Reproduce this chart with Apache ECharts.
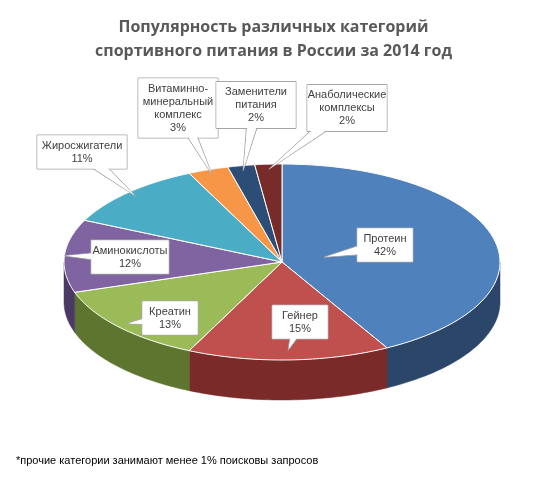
<!DOCTYPE html>
<html><head><meta charset="utf-8">
<script src="https://cdn.jsdelivr.net/npm/echarts@6/dist/echarts.min.js"></script>
<style>html,body{margin:0;background:#fff}#c{width:547px;height:488px}</style>
</head><body><div id="c"></div>
<script>
const categories = ['Протеин','Гейнер','Креатин','Аминокислоты','Жиросжигатели','Витаминно-\nминеральный\nкомплекс','Заменители\nпитания','Анаболические\nкомплексы'];
const values = [42,15,13,12,11,3,2,2];
const topColors = ['#4F81BD','#C0504D','#9BBB59','#8064A2','#4BACC6','#F79646','#2C4D75','#772C2A'];
const sideColors = ['#2B4669','#7A2A28','#5E7530','#4A3A63','#2B6E80','#A85E1F','#1A2D45','#4A1A18'];
// label box centre [x,y] and pointer radial factor
const labelLayout = [[385,245,0.2],[300,322,0.9],[170,318,0.95],[130,257,1.0],[82,152,0.95],[178,108,0.95],[256,105,0.95],[347,108,0.95]];

const CX=282, CY=262, RX=218, RY=98, DEPTH=40;
const total = values.reduce((a,b)=>a+b,0);
const starts=[]; {let acc=0; values.forEach(v=>{starts.push(acc/total*360); acc+=v;});}
function pt(t,f,dy){const r=t*Math.PI/180; return [CX+RX*f*Math.sin(r), CY-RY*f*Math.cos(r)+(dy||0)];}

function sideItem(params){
  const i=params.dataIndex; const a0=starts[i], a1=a0+values[i]/total*360;
  const s=Math.max(a0,90), e=Math.min(a1,270);
  if(e<=s) return {type:'group',children:[]};
  const top=[],bot=[];
  for(let k=0;k<=40;k++){const t=s+(e-s)*k/40; top.push(pt(t,1)); bot.push(pt(t,1,DEPTH));}
  return {type:'polygon',shape:{points:top.concat(bot.reverse())},style:{fill:sideColors[i],stroke:sideColors[i],lineWidth:0.5}};
}
function topItem(params){
  const i=params.dataIndex; const a0=starts[i], a1=a0+values[i]/total*360;
  const pts=[[CX,CY]];
  for(let k=0;k<=60;k++) pts.push(pt(a0+(a1-a0)*k/60,1));
  return {type:'polygon',shape:{points:pts},style:{fill:topColors[i],stroke:'#fff',lineWidth:1}};
}
function labelItem(params){
  const i=params.dataIndex; const mid=starts[i]+values[i]/total*180;
  const L=labelLayout[i]; const tip=pt(mid,L[2]);
  const lines=categories[i].split('\n').length+1;
  const txt=categories[i]+'\n'+values[i]+'%';
  const w = i===3?78:(i===4?90:(i>=5?80:56)), h=lines*13+8;
  const bx=L[0]-w/2, by=L[1]-h/2;
  const cx=L[0], cy=L[1];
  const dx=tip[0]-cx, dy=tip[1]-cy, len=Math.hypot(dx,dy)||1;
  const px=-dy/len*8, py=dx/len*8;
  return {type:'group',children:[
    {type:'polygon',shape:{points:[[cx+px,cy+py],[cx-px,cy-py],tip]},style:{fill:'#fff',stroke:'#a6a6a6',lineWidth:1}},
    {type:'rect',shape:{x:bx,y:by,width:w,height:h},style:{fill:'#fff',stroke:'#a6a6a6',lineWidth:1}},
    {type:'polygon',shape:{points:[[cx+px*0.85,cy+py*0.85],[cx-px*0.85,cy-py*0.85],[tip[0]-dx/len*1.5,tip[1]-dy/len*1.5]]},style:{fill:'#fff',stroke:null}},
    {type:'rect',shape:{x:bx+0.5,y:by+0.5,width:w-1,height:h-1},style:{fill:'#fff'}},
    {type:'text',x:cx,y:cy,style:{text:txt,align:'center',verticalAlign:'middle',font:'11px "Liberation Sans", Arial',fill:'#404040',lineHeight:13}}
  ]};
}
const chart=echarts.init(document.getElementById('c'));
chart.setOption({
  animation:false,
  title:{text:'Популярность различных категорий\nспортивного питания в России за 2014 год',left:'center',top:10,
    textStyle:{fontSize:16,fontWeight:'bold',color:'#595959',lineHeight:24,fontFamily:'"Open Sans", Arial'}},
  graphic:[{type:'text',left:16,top:455,style:{text:'*прочие категории занимают менее 1% поисковы запросов',font:'11px "Liberation Sans", Arial',fill:'#000'}}],
  series:[
    {type:'custom',coordinateSystem:'none',renderItem:sideItem,data:values,z:1},
    {type:'custom',coordinateSystem:'none',renderItem:topItem,data:values,z:2},
    {type:'custom',coordinateSystem:'none',renderItem:labelItem,data:values,z:3}
  ]
});
</script></body></html>
